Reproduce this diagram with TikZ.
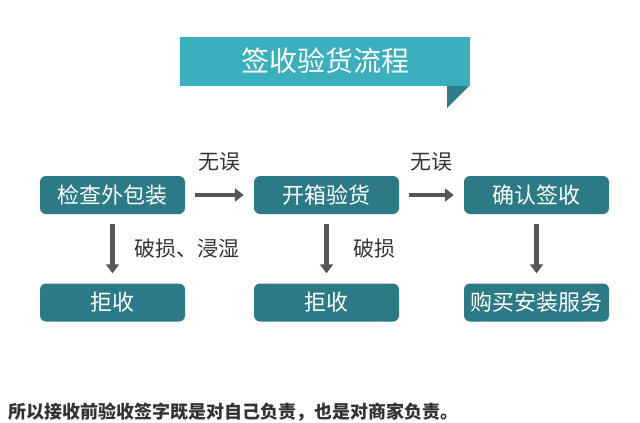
\documentclass[tikz,border=0pt]{standalone}
\usepackage{fontspec}
\usetikzlibrary{arrows.meta}
\newfontfamily\cjk{Noto Sans CJK SC}
\definecolor{bannerteal}{HTML}{3AB0BE}
\definecolor{foldteal}{HTML}{2A7D89}
\definecolor{boxteal}{HTML}{2B7A86}
\definecolor{arrowgray}{HTML}{555555}
\definecolor{labelgray}{HTML}{333333}

\tikzset{
  stepbox/.style={fill=boxteal, rounded corners=6pt, minimum width=145pt, minimum height=38pt,
    inner sep=0pt, text=white, font=\cjk\fontsize{22}{22}\selectfont},
  flow/.style={draw=arrowgray, line width=4.5pt, -{Triangle[length=9pt,width=13pt]},
    shorten <=10pt, shorten >=10pt},
  flowlabel/.style={text=labelgray, font=\cjk\fontsize{21}{21}\selectfont, inner sep=0pt}
}

\begin{document}
\begin{tikzpicture}[x=1pt, y=-1pt]
      \useasboundingbox (0, 0) rectangle (640, 423);

      % title banner
      \fill[foldteal] (447, 85) -- (470, 85) -- (447, 108) -- cycle;
      \fill[bannerteal] (180, 37) rectangle (470, 86);
      \node[text=white, font=\cjk\fontsize{28}{28}\selectfont] (title) at (325, 61) {签收验货流程};

      % first row
      \node[stepbox] (check) at (112.5, 195) {检查外包装};
      \node[stepbox] (unpack) at (326.5, 195) {开箱验货};
      \node[stepbox] (confirm) at (536.5, 195) {确认签收};

      % second row
      \node[stepbox] (reject1) at (112.5, 302.5) {拒收};
      \node[stepbox] (reject2) at (326.5, 302.5) {拒收};
      \node[stepbox] (install) at (536.5, 302.5) {购买安装服务};

      \draw[flow] (check) -- (unpack) node[flowlabel, midway, above=22pt] (ok1) {无误};
      \draw[flow] (unpack) -- (confirm) node[flowlabel, midway, above=22pt] (ok2) {无误};

      \draw[flow] (check) -- (reject1) node[flowlabel, midway, right=20pt] (bad1) {破损、浸湿};
      \draw[flow] (unpack) -- (reject2) node[flowlabel, midway, right=25pt] (bad2) {破损};
      \draw[flow] (confirm) -- (install);

      \node[anchor=west, text=labelgray, inner sep=0pt, font=\cjk\bfseries\fontsize{18}{18}\selectfont]
        (note) at (8, 412) {所以接收前验收签字既是对自己负责，也是对商家负责。};
    \end{tikzpicture}
\end{document}
